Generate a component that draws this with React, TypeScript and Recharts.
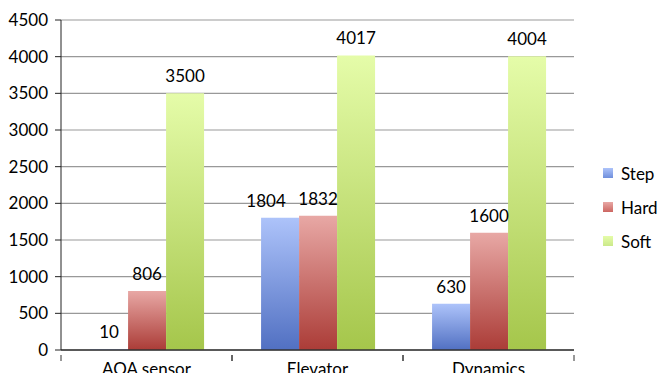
import React from "react"
import { Bar, BarChart, CartesianGrid, LabelList, Legend, XAxis, YAxis } from "recharts"

const categories = ["AOA sensor", "Elevator", "Dynamics"]
const stepValues = [10, 1804, 630]
const hardValues = [806, 1832, 1600]
const softValues = [3500, 4017, 4004]
const yTicks = [0, 500, 1000, 1500, 2000, 2500, 3000, 3500, 4000, 4500]

const data = categories.map((name, i) => ({
  name,
  Step: stepValues[i],
  Hard: hardValues[i],
  Soft: softValues[i],
}))

const series = [
  { key: "Step", top: "#adc3fa", bottom: "#5170c2", swatch: "#6f8fdc" },
  { key: "Hard", top: "#e8a8a5", bottom: "#ab3c37", swatch: "#cc6661" },
  { key: "Soft", top: "#e5fca9", bottom: "#a5c64b", swatch: "#cbe98a" },
]

const FONT = "Lato, 'Open Sans', sans-serif"
const FONT_SIZE = 17

// category label plus the small tick marks at the band edges
const CategoryTick = (props: any) => {
  const { x, y, payload } = props
  const half = payload?.offset ?? 0
  return (
    <g>
      {half > 0 && (
        <>
          <line x1={x - half} x2={x - half} y1={y - 8} y2={y - 2} stroke="#333" strokeWidth={1} />
          <line x1={x + half} x2={x + half} y1={y - 8} y2={y - 2} stroke="#333" strokeWidth={1} />
        </>
      )}
      <text x={x} y={y} dy="0.71em" textAnchor="middle" fill="#000" fontSize={FONT_SIZE} fontFamily={FONT}>
        {payload.value}
      </text>
    </g>
  )
}

// value label above a bar; the Step label slides left when it would run into the Hard one
const ValueLabel = (props: any) => {
  const { x, y, width, value, index, seriesKey } = props
  let cx = x + width / 2
  if (seriesKey === "Step" && Math.abs(stepValues[index] - hardValues[index]) < 300) cx -= 14
  return (
    <text x={cx} y={y - 11} textAnchor="middle" fill="#000" fontSize={FONT_SIZE} fontFamily={FONT}>
      {value}
    </text>
  )
}

const LegendBox = () => (
  <div style={{ width: 56, fontFamily: FONT, fontSize: FONT_SIZE, color: "#000" }}>
    {series.map((s) => (
      <div key={s.key} style={{ display: "flex", alignItems: "center", height: 34 }}>
        <span
          style={{
            display: "inline-block",
            width: 10,
            height: 10,
            marginRight: 8,
            background: `linear-gradient(${s.top}, ${s.swatch})`,
          }}
        />
        <span>{s.key}</span>
      </div>
    ))}
  </div>
)

export default function App() {
  return (
    <div style={{ position: "absolute", left: 0, top: 0 }}>
      <BarChart
        width={659}
        height={373}
        data={data}
        margin={{ top: 20, right: 29, bottom: 0, left: 0 }}
        barCategoryGap="17%"
        barGap={0}
      >
        <defs>
          {series.map((s) => (
            <linearGradient key={s.key} id={`grad-${s.key}`} x1="0" y1="0" x2="0" y2="1">
              <stop offset="0%" stopColor={s.top} />
              <stop offset="100%" stopColor={s.bottom} />
            </linearGradient>
          ))}
        </defs>
        <CartesianGrid vertical={false} stroke="#999" strokeWidth={1.2} />
        <XAxis
          dataKey="name"
          height={23}
          tickLine={false}
          tickMargin={7}
          axisLine={{ stroke: "#333", strokeWidth: 1.5 }}
          tick={<CategoryTick />}
        />
        <YAxis
          width={61}
          domain={[0, 4500]}
          ticks={yTicks}
          interval={0}
          tickSize={6}
          tickMargin={7}
          axisLine={{ stroke: "#222" }}
          tickLine={{ stroke: "#222" }}
          tick={{ fill: "#000", fontSize: FONT_SIZE, fontFamily: FONT }}
        />
        <Legend
          layout="vertical"
          align="right"
          verticalAlign="middle"
          content={<LegendBox />}
          wrapperStyle={{ left: 603, right: undefined, top: 156, width: 56 }}
        />
        {series.map((s) => (
          <Bar key={s.key} dataKey={s.key} fill={`url(#grad-${s.key})`} isAnimationActive={false}>
            <LabelList dataKey={s.key} content={<ValueLabel seriesKey={s.key} />} />
          </Bar>
        ))}
      </BarChart>
    </div>
  )
}
